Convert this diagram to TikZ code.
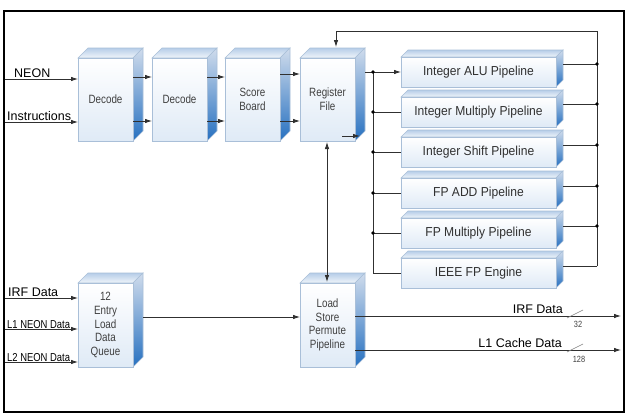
\documentclass[tikz,border=0pt]{standalone}
\usepackage{fontspec}
\setmainfont{Liberation Sans}
\newfontfamily\narrowfont[FakeStretch=0.82]{Liberation Sans}
\newfontfamily\pipefont[FakeStretch=0.93]{Liberation Sans}
\usetikzlibrary{arrows.meta}
\definecolor{edgec}{HTML}{A9BFD8}
\definecolor{frontblue}{HTML}{DFEAF6}
\definecolor{topfar}{HTML}{B6CDE8}
\definecolor{topnear}{HTML}{F0F5FA}
\definecolor{sidetop}{HTML}{D0DCEC}
\definecolor{sidemid}{HTML}{4F90D2}
\definecolor{sidebot}{HTML}{2670C0}
\definecolor{boxtext}{HTML}{404040}
\definecolor{wirec}{HTML}{303030}
\tikzset{
  wire/.style={draw=wirec, line width=0.8pt},
  arr/.style={wire, -{Latex[length=7pt,width=4.5pt]}},
  dualarr/.style={wire, {Latex[length=7pt,width=4.5pt]}-{Latex[length=7pt,width=4.5pt]}},
  jdot/.style={circle, fill=black, inner sep=0pt, minimum size=3.6pt},
  frontface/.style={draw=edgec, line width=0.6pt, top color=white, bottom color=frontblue,
    inner sep=0pt, outer sep=0pt, align=center, anchor=north west, text=boxtext},
  cubetext/.style={font=\narrowfont\fontsize{12}{13.6}\selectfont},
  pipetext/.style={font=\pipefont\fontsize{13}{14}\selectfont, text=wirec},
  inlabel/.style={font=\fontsize{12.5}{14}\selectfont, inner sep=0pt},
  smalllabel/.style={font=\narrowfont\fontsize{11.5}{13}\selectfont, inner sep=0pt},
  widthlabel/.style={font=\narrowfont\fontsize{9}{10}\selectfont, inner sep=0pt, text=boxtext},
  slash/.style={draw=gray, line width=0.6pt}
}
% #1 name, #2 x, #3 y, #4 width, #5 height, #6 depth, #7 style, #8 text
\newcommand\cubebox[8]{%
  \shade[top color=topfar, bottom color=topnear, draw=edgec, line width=0.6pt]
    (#2,#3) -- ++(#6,-#6) -- ++(#4,0) -- ++(-#6,#6) -- cycle;
  \shade[top color=sidetop, middle color=sidemid, bottom color=sidebot, draw=edgec, line width=0.6pt]
    (#2+#4,#3) -- ++(#6,-#6) -- ++(0,#5) -- ++(-#6,#6) -- cycle;
  \node[frontface, minimum width=#4, minimum height=#5, #7] (#1) at (#2,#3) {#8};
}
\begin{document}
\begin{tikzpicture}[x=1pt,y=-1pt]
\useasboundingbox (0,0) rectangle (632,418);
\fill[white] (0,0) rectangle (632,418);

% cubes
\cubebox{dec1}{78}{58}{55}{83}{10}{cubetext}{Decode}
\cubebox{dec2}{152}{58}{55}{83}{10}{cubetext}{Decode}
\cubebox{score}{225}{58}{55}{83}{10}{cubetext}{Score\\Board}
\cubebox{reg}{300}{58}{55}{83}{10}{cubetext}{Register\\File}
\cubebox{ldq}{78}{283}{55}{84}{10}{cubetext}{12\\Entry\\Load\\Data\\Queue}
\cubebox{ls}{300}{283}{55}{84}{10}{cubetext}{Load\\Store\\Permute\\Pipeline}

% pipelines
\cubebox{alu}{401}{57}{155}{30}{7}{pipetext}{Integer ALU Pipeline}
\cubebox{imul}{401}{97}{155}{30}{7}{pipetext}{Integer Multiply Pipeline}
\cubebox{ishift}{401}{137}{155}{30}{7}{pipetext}{Integer Shift Pipeline}
\cubebox{fpadd}{401}{178}{155}{30}{7}{pipetext}{FP ADD Pipeline}
\cubebox{fpmul}{401}{218}{155}{30}{7}{pipetext}{FP Multiply Pipeline}
\cubebox{ieee}{401}{258}{155}{30}{7}{pipetext}{IEEE FP Engine}

% outer frame
\draw[line width=2.8pt, black] (4,11) rectangle (624,412);

% input coordinates
\coordinate (neonin) at (5,79);
\coordinate (instrin) at (5,122);
\coordinate (irfin) at (5,298);
\coordinate (l1in) at (5,329);
\coordinate (l2in) at (5,362);

\draw[arr] (neonin) -- (neonin -| dec1.west);
\draw[arr] (instrin) -- (instrin -| dec1.west);
\draw[arr] (irfin) -- (irfin -| ldq.west);
\draw[arr] (l1in) -- (l1in -| ldq.west);
\draw[arr] (l2in) -- (l2in -| ldq.west);

\node[inlabel, anchor=base west] (lneon) at (14,77) {NEON};
\node[inlabel, anchor=base west] (linstr) at (7,120.5) {Instructions};
\node[inlabel, anchor=base west] (lirf) at (8,296) {IRF Data};
\node[smalllabel, anchor=base west] (ll1) at (7,328) {L1 NEON Data};
\node[smalllabel, anchor=base west] (ll2) at (7,361) {L2 NEON Data};

% decode chain
\coordinate (ya) at (0,77);
\coordinate (yb) at (0,121);
\coordinate (yc) at (0,74);
\draw[arr] (dec1.east |- ya) -- (dec2.west |- ya);
\draw[arr] (dec1.east |- yb) -- (dec2.west |- yb);
\draw[arr] (dec2.east |- ya) -- (score.west |- ya);
\draw[arr] (dec2.east |- yb) -- (score.west |- yb);
\draw[arr] (score.east |- yc) -- (reg.west |- yc);
\draw[arr] (score.east |- yb) -- (reg.west |- yb);

% register file small arrow
\coordinate (rfa) at (342,136);
\coordinate (rfb) at (360,136);
\draw[arr] (rfa) -- (rfb);

% register file to pipelines
\coordinate (regout) at (365,72);
\coordinate (lb1) at (373,72);
\coordinate (lb2) at (373,112);
\coordinate (lb3) at (373,152);
\coordinate (lb4) at (373,193);
\coordinate (lb5) at (373,233);
\coordinate (lb6) at (373,273);
\draw[arr] (regout) -- (alu.west);
\draw[wire] (lb1) -- (lb6) -- (ieee.west);
\draw[wire] (lb2) -- (imul.west);
\draw[wire] (lb3) -- (ishift.west);
\draw[wire] (lb4) -- (fpadd.west);
\draw[wire] (lb5) -- (fpmul.west);
\foreach \c in {lb1,lb2,lb3,lb4,lb5} \node[jdot] at (\c) {};

% pipelines to right bus
\coordinate (rb1) at (597,64);
\coordinate (rb2) at (597,104);
\coordinate (rb3) at (597,145);
\coordinate (rb4) at (597,186);
\coordinate (rb5) at (597,226);
\coordinate (rb6) at (597,266);
\coordinate (rbtop) at (597,31);
\coordinate (fbk) at (336,31);
\coordinate (regtop) at (336,47);
\draw[wire] (rb1 -| 563,0) -- (rb1);
\draw[wire] (rb2 -| 563,0) -- (rb2);
\draw[wire] (rb3 -| 563,0) -- (rb3);
\draw[wire] (rb4 -| 563,0) -- (rb4);
\draw[wire] (rb5 -| 563,0) -- (rb5);
\draw[wire] (rb6 -| 563,0) -- (rb6);
\draw[arr] (rb6) -- (rbtop) -- (fbk) -- (regtop);
\foreach \c in {rb1,rb2,rb3,rb4,rb5} \node[jdot] at (\c) {};

% register file <-> load store
\coordinate (rls1) at (327,142);
\coordinate (rls2) at (327,282);
\draw[dualarr] (rls1) -- (rls2);

% queue to load store
\coordinate (yq) at (0,317);
\draw[arr] (143,317) -- (ls.west |- yq);

% outputs
\coordinate (irfout) at (621,316);
\coordinate (l1out) at (621,350);
\draw[arr] (ls.east |- irfout) -- (irfout);
\draw[arr] (ls.east |- l1out) -- (l1out);
\node[inlabel, anchor=base east] (lirfo) at (563,313) {IRF Data};
\node[inlabel, anchor=base east] (ll1o) at (562,347.5) {L1 Cache Data};
\draw[slash] (567,318) -- (583,310);
\draw[slash] (567,352) -- (583,344);
\node[widthlabel] (w32) at (578,324.5) {32};
\node[widthlabel] (w128) at (579,359) {128};
\end{tikzpicture}
\end{document}
